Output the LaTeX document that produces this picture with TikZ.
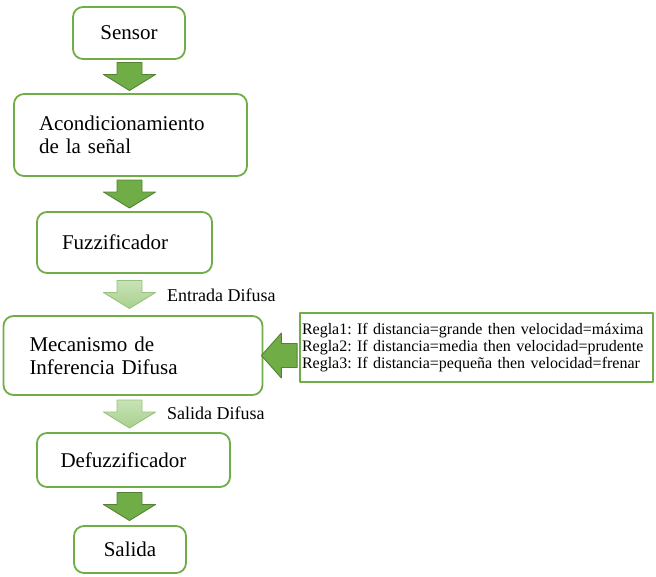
\documentclass[tikz,border=0pt]{standalone}
\usepackage{fontspec}
\setmainfont{Liberation Serif}
\usepackage{tikz}
\usetikzlibrary{calc}
\definecolor{leaf}{RGB}{112,173,71}
\definecolor{leafdark}{RGB}{84,130,53}
\definecolor{leaflight}{RGB}{169,209,142}
\definecolor{leafpale}{RGB}{200,226,183}
\frenchspacing
\newcommand{\blockdown}[3]{%
  \draw[#1] let \p0=(axis), \p1=(#2.south), \p2=(#3.north), \n1={0.5*(\y1+\y2)} in
    (\x0-12.5pt,\n1+14pt) -- (\x0+12.5pt,\n1+14pt) -- (\x0+12.5pt,\n1+2pt) -- (\x0+26pt,\n1+2pt)
    -- (\x0,\n1-14pt) -- (\x0-26pt,\n1+2pt) -- (\x0-12.5pt,\n1+2pt) -- cycle;}

\begin{document}
\begin{tikzpicture}[x=1pt,y=1pt,line join=round,
  box/.style={draw=leaf,line width=1.8pt,rounded corners=10pt,inner xsep=25pt,inner ysep=0pt,
    font=\fontsize{21}{24}\selectfont},
  darkarrow/.style={draw=leafdark,fill=leaf,line width=0.9pt},
  lightarrow/.style={draw=leaflight!80!leafdark,top color=leafpale,bottom color=leaflight,line width=0.9pt},
  lbl/.style={font=\fontsize{18}{20}\selectfont,anchor=west,inner sep=0pt}]
\useasboundingbox (0,0) rectangle (656,-576);
\coordinate (axis) at (129.5,0);
\node[box,minimum width=112pt,minimum height=52pt,inner xsep=0pt] (sensor) at (129,-33) {Sensor};
\node[box,text width=183pt,minimum height=82pt,align=left] (acond) at (130.5,-135)
  {Acondicionamiento\\[-1pt]de la señal};
\node[box,text width=125pt,minimum height=61pt,align=left] (fuzz) at (124.5,-242.5) {Fuzzificador};
\node[box,text width=207pt,minimum height=79pt,align=left,inner xsep=26pt] (mec) at (133,-355.5)
  {Mecanismo de\\[-1pt]Inferencia Difusa};
\node[draw=leaf,line width=1.8pt,text width=349pt,minimum height=69pt,inner xsep=2pt,align=left,
  font=\fontsize{16}{16.6}\selectfont] (rules) at (476.5,-347.5)
  {Regla1: If distancia=grande then velocidad=máxima\\
   Regla2: If distancia=media then velocidad=prudente\\
   Regla3: If distancia=pequeña then velocidad=frenar};
\node[box,text width=146pt,minimum height=54pt,align=left,inner xsep=23.5pt] (defuzz) at (133.5,-460) {Defuzzificador};
\node[box,minimum width=112pt,minimum height=47pt,inner xsep=0pt] (salida) at (130,-549.5) {Salida};
% flechas
\blockdown{darkarrow}{sensor}{acond}
\blockdown{darkarrow}{acond}{fuzz}
\blockdown{lightarrow}{fuzz}{mec}
\blockdown{lightarrow}{mec}{defuzz}
\blockdown{darkarrow}{defuzz}{salida}
\draw[darkarrow] let \p1=(rules.west), \p2=(mec.east) in
  (\x1-2pt,\y2+12pt) -- (\x2+18pt,\y2+12pt) -- (\x2+18pt,\y2+22.5pt) -- (\x2-2pt,\y2)
  -- (\x2+18pt,\y2-22.5pt) -- (\x2+18pt,\y2-12pt) -- (\x1-2pt,\y2-12pt) -- cycle;
\node[lbl] (entrada) at (167,-295) {Entrada Difusa};
\node[lbl] (salidadif) at (167,-413) {Salida Difusa};
\end{tikzpicture}
\end{document}
